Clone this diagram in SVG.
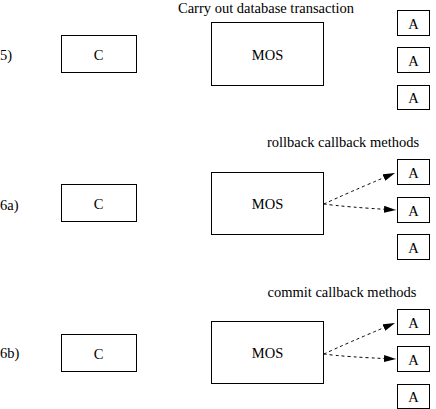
<svg xmlns="http://www.w3.org/2000/svg" width="436" height="409" viewBox="0 0 436 409">
<defs>
<style>
rect{fill:#fff;stroke:#000;stroke-width:1}
.d{fill:none;stroke:#000;stroke-width:1;stroke-dasharray:3,3}
</style>
<marker id="ah" markerWidth="12" markerHeight="7" refX="12" refY="3.5" orient="auto" markerUnits="userSpaceOnUse">
<path d="M0,0 L12,3.5 L0,7 z" fill="#000"/>
</marker>
</defs>
<rect x="0" y="0" width="436" height="409" style="stroke:none"/>
<g font-family="'Liberation Serif', 'Times New Roman', serif" font-size="14.5" fill="#000">
<text x="266" y="12.5" text-anchor="middle">Carry out database transaction</text>
<text x="0" y="60">5)</text>
<g id="C5"><rect x="61.5" y="35.5" width="75" height="37"/><text x="98.5" y="59.5" text-anchor="middle">C</text></g>
<g id="MOS5"><rect x="211.5" y="22.5" width="112" height="63"/><text x="267.5" y="59.5" text-anchor="middle">MOS</text></g>
<g id="A5a"><rect x="397.5" y="10.5" width="32" height="25"/><text x="413.5" y="28.5" text-anchor="middle">A</text></g>
<g id="A5b"><rect x="397.5" y="47.5" width="32" height="25"/><text x="413.5" y="65.5" text-anchor="middle">A</text></g>
<g id="A5c"><rect x="397.5" y="85.5" width="32" height="24"/><text x="413.5" y="103" text-anchor="middle">A</text></g>

<text x="343" y="147" text-anchor="middle">rollback callback methods</text>
<text x="0" y="210">6a)</text>
<g id="C6a"><rect x="61.5" y="184.5" width="75" height="37"/><text x="98.5" y="208.5" text-anchor="middle">C</text></g>
<g id="MOS6a"><rect x="211.5" y="172.5" width="112" height="62"/><text x="267.5" y="209" text-anchor="middle">MOS</text></g>
<g id="A6a1"><rect x="397.5" y="159.5" width="32" height="25"/><text x="413.5" y="177.5" text-anchor="middle">A</text></g>
<g id="A6a2"><rect x="397.5" y="197.5" width="32" height="25"/><text x="413.5" y="215.5" text-anchor="middle">A</text></g>
<g id="A6a3"><rect x="397.5" y="234.5" width="32" height="25"/><text x="413.5" y="252.5" text-anchor="middle">A</text></g>

<text x="342" y="297" text-anchor="middle">commit callback methods</text>
<text x="0" y="358">6b)</text>
<g id="C6b"><rect x="61.5" y="334.5" width="75" height="37"/><text x="98.5" y="358.5" text-anchor="middle">C</text></g>
<g id="MOS6b"><rect x="211.5" y="321.5" width="112" height="62"/><text x="267.5" y="358" text-anchor="middle">MOS</text></g>
<g id="A6b1"><rect x="397.5" y="309.5" width="32" height="25"/><text x="413.5" y="327.5" text-anchor="middle">A</text></g>
<g id="A6b2"><rect x="397.5" y="346.5" width="32" height="25"/><text x="413.5" y="364.5" text-anchor="middle">A</text></g>
<g id="A6b3"><rect x="397.5" y="384.5" width="32" height="24"/><text x="413.5" y="402" text-anchor="middle">A</text></g>
</g>
<g id="connectors">
<path class="d" d="M324,204 Q345,194 395,173" marker-end="url(#ah)"/>
<path class="d" d="M324,204 Q345,207 396,210" marker-end="url(#ah)"/>
<path class="d" d="M324,354 Q345,344 395,323" marker-end="url(#ah)"/>
<path class="d" d="M324,354 Q345,357 396,359" marker-end="url(#ah)"/>
</g>
</svg>
